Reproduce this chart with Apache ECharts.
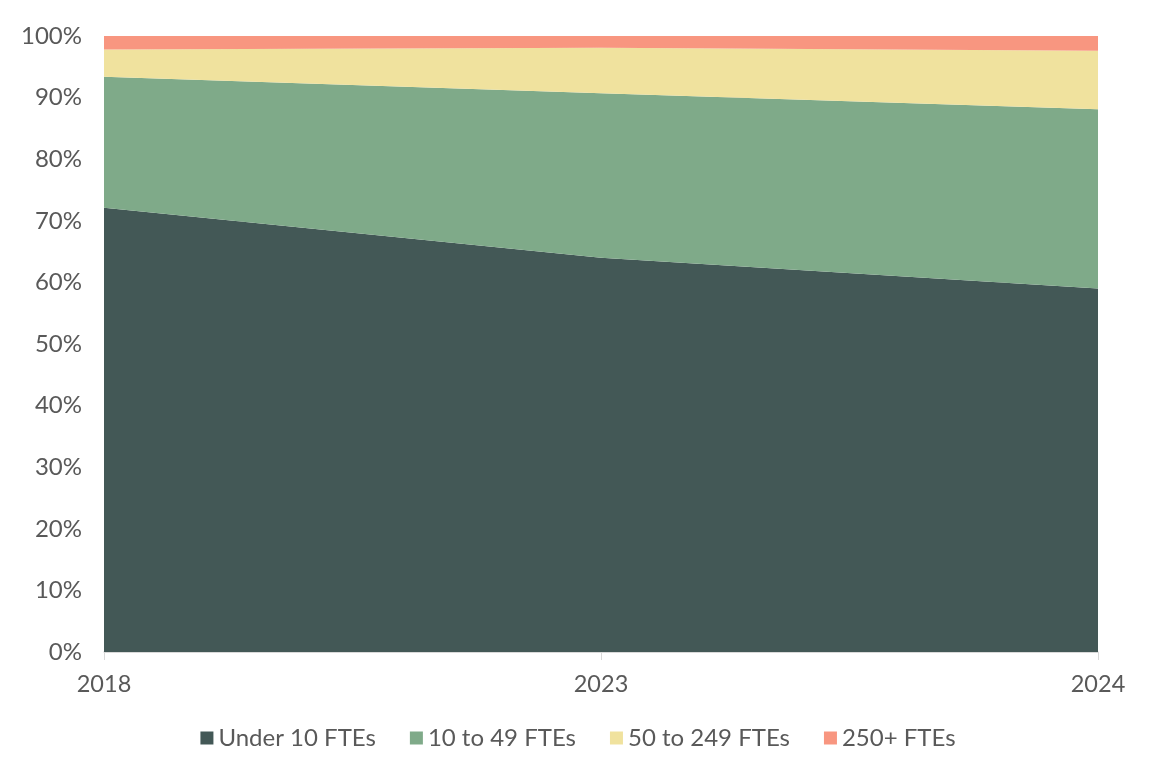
<!DOCTYPE html>
<html><head><meta charset="utf-8">
<script src="https://cdn.jsdelivr.net/npm/echarts@6/dist/echarts.min.js"></script>
<style>html,body{margin:0;padding:0;background:#fff}#c{width:1156px;height:782px}</style>
</head><body><div id="c"></div>
<script>
const categories = ['2018', '2023', '2024'];
const under10 = [72.1, 64.0, 59.0];
const from10to49 = [21.3, 26.7, 29.1];
const from50to249 = [4.4, 7.4, 9.5];
const over250 = [2.2, 1.9, 2.4];
const yTicks = [0, 10, 20, 30, 40, 50, 60, 70, 80, 90, 100];

const names = ['Under 10 FTEs', '10 to 49 FTEs', '50 to 249 FTEs', '250+ FTEs'];
const colors = ['#435856', '#7FAA89', '#F0E29E', '#F89680'];
const data = [under10, from10to49, from50to249, over250];

const chart = echarts.init(document.getElementById('c'));
chart.setOption({
  animation: false,
  textStyle: { fontFamily: 'Lato' },
  grid: { left: 104, right: 58, top: 36, bottom: 130 },
  legend: {
    bottom: 27, itemWidth: 13, itemHeight: 13, itemGap: 34,
    icon: 'rect',
    textStyle: { fontSize: 24, color: '#595959', fontFamily: 'Lato' },
    data: names
  },
  xAxis: {
    type: 'category', data: categories, boundaryGap: false,
    axisLine: { lineStyle: { color: '#D9D9D9', width: 1.5 } },
    axisTick: { show: true, length: 8, lineStyle: { color: '#D9D9D9' } },
    axisLabel: { fontSize: 23.5, color: '#595959', margin: 20, fontFamily: 'Lato' }
  },
  yAxis: {
    type: 'value', min: 0, max: 100, interval: 10,
    axisLine: { show: false }, axisTick: { show: false },
    splitLine: { show: true, lineStyle: { color: '#D9D9D9' } },
    axisLabel: { fontSize: 24, color: '#595959', margin: 22, fontFamily: 'Lato',
      formatter: v => yTicks.includes(v) ? v + '%' : '' }
  },
  series: data.map((d, i) => ({
    name: names[i], type: 'line', stack: 'total', data: d,
    symbol: 'none', lineStyle: { width: 0 },
    itemStyle: { color: colors[i] },
    areaStyle: { color: colors[i], opacity: 1 }
  }))
});
</script></body></html>
